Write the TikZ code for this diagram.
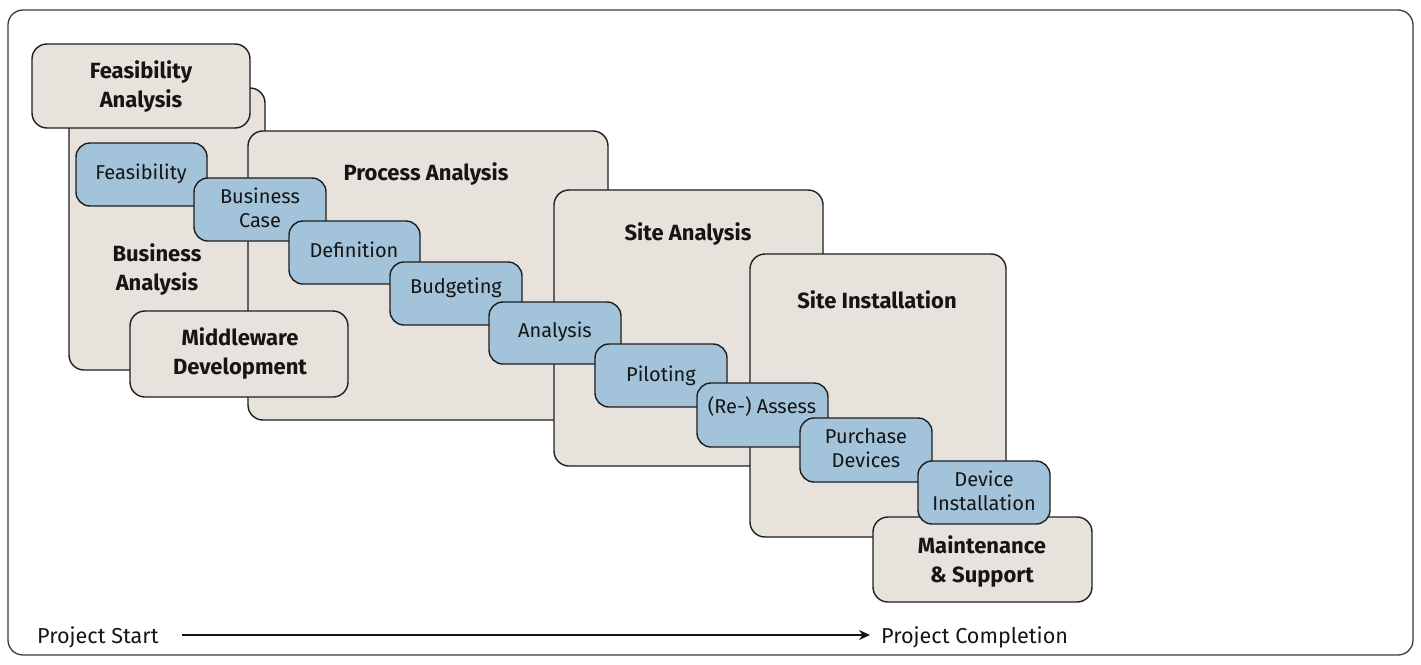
\documentclass[tikz,border=0pt]{standalone}
\usepackage{fontspec}
\setmainfont{Fira Sans}
\usetikzlibrary{arrows.meta,calc}
\definecolor{beige}{HTML}{E8E2DC}
\definecolor{bluebox}{HTML}{A2C3D9}
\definecolor{edge}{HTML}{1E1E1E}
\definecolor{framecol}{HTML}{3C3C3C}
\definecolor{inkcol}{HTML}{151515}
\newcommand\boxat[6]{%
  \node[#1, minimum width={#5-#3}, minimum height={#6-#4}] (#2) at ({(#3+#5)/2},{(#4+#6)/2}) {};}
\begin{document}
\begin{tikzpicture}[x=1pt,y=-1pt,
  frame/.style={draw=framecol, line width=1.3pt, rounded corners=15pt, inner sep=0pt},
  phase/.style={draw=edge, fill=beige, line width=1.4pt, rounded corners=15pt, inner sep=0pt},
  task/.style={draw=edge, fill=bluebox, line width=1.4pt, rounded corners=14pt, inner sep=0pt},
  ttl/.style={font=\fontsize{22}{29}\selectfont\bfseries, align=center, text=inkcol, anchor=base, inner sep=0pt},
  tasktxt/.style={font=\fontsize{20}{24}\selectfont, align=center, text=inkcol, anchor=base, inner sep=0pt},
  axistxt/.style={font=\fontsize{21.6}{25}\selectfont, text=inkcol, inner sep=0pt},
  timeline/.style={draw=inkcol, line width=1.2pt, -{Stealth[length=11pt,width=10pt]}},
]
\useasboundingbox (0,0) rectangle (1421,664);
\boxat{frame}{frame}{8}{10}{1413}{655}
% phase boxes
\boxat{phase}{busA}{69}{88}{265}{370}
\boxat{phase}{feasA}{32}{44}{250}{128}
\boxat{phase}{procA}{248}{131}{608}{420}
\boxat{phase}{midD}{130}{311}{348}{397}
\boxat{phase}{siteA}{554}{190}{823}{466}
\boxat{phase}{siteI}{750}{254}{1006}{537}
\boxat{phase}{maint}{873}{517}{1092}{602}
% phase titles (base = last line)
\node[ttl] (tFeasA) at (141,107) {Feasibility\\Analysis};
\node[ttl] (tBusA) at (157,290) {Business\\Analysis};
\node[ttl] (tMid) at (240,374) {Middleware\\Development};
\node[ttl] (tProc) at (426,180) {Process Analysis};
\node[ttl] (tSiteA) at (688,240) {Site Analysis};
\node[ttl] (tSiteI) at (877,308) {Site Installation};
\node[ttl] (tMaint) at (982,582) {Maintenance\\\& Support};
% task boxes
\boxat{task}{feas}{76}{143}{207}{206}
\boxat{task}{bcase}{194}{178}{326}{241}
\boxat{task}{defn}{289}{221}{420}{284}
\boxat{task}{budg}{390}{262}{522}{325}
\boxat{task}{anal}{489}{302}{621}{364}
\boxat{task}{pilot}{595}{344}{727}{407}
\boxat{task}{reass}{697}{383}{828}{447}
\boxat{task}{purch}{800}{418}{932}{482}
\boxat{task}{devi}{918}{461}{1050}{524}
% task labels
\node[tasktxt] (lfeas) at (141,179) {Feasibility};
\node[tasktxt] (lbcase) at (260,227) {Business\\Case};
\node[tasktxt] (ldefn) at (354,257) {Definition};
\node[tasktxt] (lbudg) at (456,293) {Budgeting};
\node[tasktxt] (lanal) at (555,337) {Analysis};
\node[tasktxt] (lpilot) at (661,381) {Piloting};
\node[tasktxt] (lreass) at (762,413) {(Re-) Assess};
\node[tasktxt] (lpurch) at (866,467) {Purchase\\Devices};
\node[tasktxt] (ldevi) at (984,510) {Device\\Installation};
% timeline
\node[axistxt, anchor=base west] (pstart) at (37,643) {Project Start};
\node[axistxt, anchor=base west] (pend) at (881,643) {Project Completion};
\path (pstart.base east) ++(23,-8) coordinate (a0);
\path (pend.base west) ++(-11,-8) coordinate (a1);
\draw[timeline] (a0) -- (a1);
\end{tikzpicture}
\end{document}
